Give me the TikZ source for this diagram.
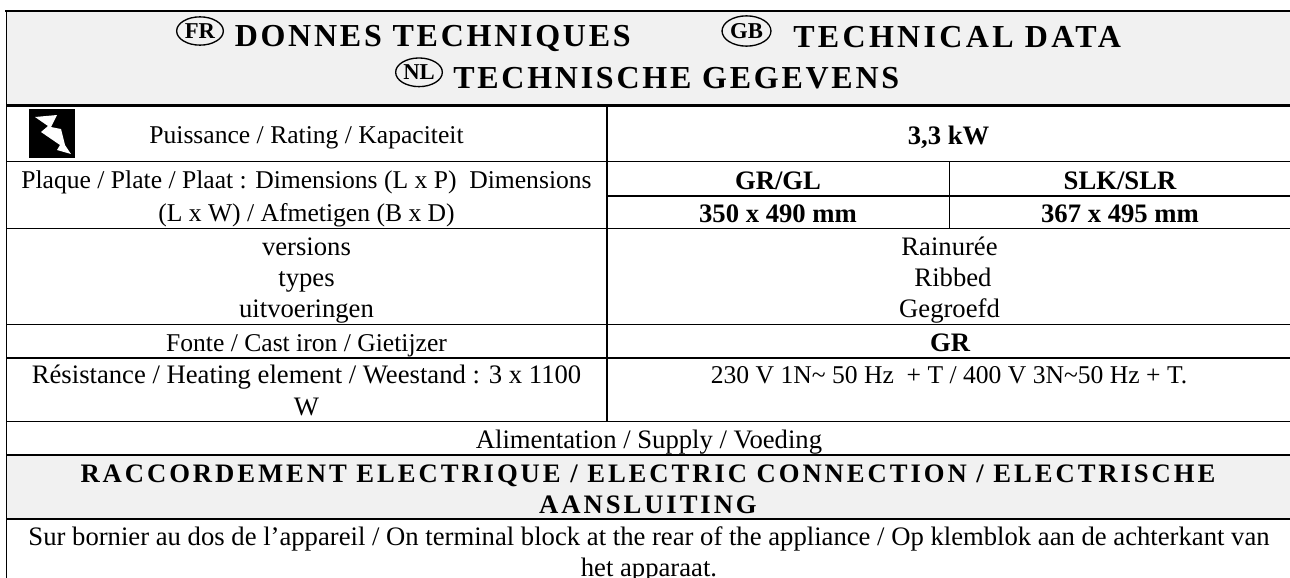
\documentclass[tikz,border=0pt]{standalone}
\usepackage{fontspec}
\setmainfont{Liberation Serif}
\newfontfamily\spaced[LetterSpace=8.6]{Liberation Serif}
\newfontfamily\spacedc[LetterSpace=10.4]{Liberation Serif}
\newfontfamily\spacedb[LetterSpace=11]{Liberation Serif}
\definecolor{band}{gray}{0.945}
\newcommand{\bodysize}{\fontsize{20pt}{24pt}\selectfont}
\newcommand{\tightsize}{\fontsize{19.2pt}{24pt}\selectfont}
\usetikzlibrary{shapes.geometric}
\tikzset{
  x=0.75pt,y=-0.75pt,
  rule/.style={line width=1.35pt,black},
  thickrule/.style={line width=1.8pt,black},
  cell/.style={inner sep=0pt,anchor=base,font=\bodysize},
  tcell/.style={inner sep=0pt,anchor=base,font=\tightsize},
  bcell/.style={cell,font=\bodysize\bfseries},
  titletext/.style={inner sep=0pt,anchor=base west,font=\fontsize{24pt}{24pt}\selectfont\bfseries\spaced},
  titletextc/.style={inner sep=0pt,anchor=base west,font=\fontsize{24pt}{24pt}\selectfont\bfseries\spacedc},
  headtext/.style={inner sep=0pt,anchor=base,font=\fontsize{20pt}{24pt}\selectfont\bfseries\spacedb},
  badge/.style={draw,ellipse,line width=1pt,inner sep=0pt,font=\fontsize{17pt}{17pt}\selectfont\bfseries}
}
\begin{document}
\begin{tikzpicture}
\useasboundingbox (0,0) rectangle (1290,578);
\fill[band] (6,11) rectangle (1290,105);
\fill[band] (6,455) rectangle (1290,519);
% horizontal rules
\draw[thickrule] (5,11) -- (1290,11);
\draw[thickrule] (6,105.5) -- (1290,105.5);
\draw[rule] (6,161.5) -- (1290,161.5);
\draw[rule] (607,196) -- (1290,196);
\draw[rule] (6,228.5) -- (1290,228.5);
\draw[rule] (6,324.5) -- (1290,324.5);
\draw[rule] (6,358) -- (1290,358);
\draw[rule] (6,421.5) -- (1290,421.5);
\draw[rule] (6,455) -- (1290,455);
\draw[rule] (6,519) -- (1290,519);
% vertical rules
\draw[rule] (6.5,10) -- (6.5,578);
\draw[rule] (607,104) -- (607,421.5);
\draw[rule] (949.5,161.5) -- (949.5,228.5);
% title
\node[badge,minimum width=35pt,minimum height=21.2pt] (fr) at (200,31) {FR};
\node[titletext] (t1) at (234.5,46.5) {DONNES TECHNIQUES};
\node[badge,minimum width=36.7pt,minimum height=22.7pt] (gb) at (746.5,31) {GB};
\node[titletextc] (t2) at (793,47) {TECHNICAL DATA};
\node[badge,minimum width=35pt,minimum height=21.5pt] (nl) at (419,72.3) {NL};
\node[titletext] (t3) at (453,88) {TECHNISCHE GEGEVENS};
% icon
\fill[black] (28.5,109) rectangle (75,158);
\fill[white] (35,117) -- (57,115) -- (51,127) -- (61,129) -- (65,145) -- (71,154) -- (57,150) -- (60,145) -- (41,132) -- (48,126) -- cycle;
% rows
\node[tcell] (a1) at (306.5,143) {Puissance / Rating / Kapaciteit};
\node[bcell] (a2) at (948.5,144) {3,3 kW};
\node[tcell] (b1) at (306.5,188) {Plaque / Plate / Plaat : Dimensions (L x P)\ \ Dimensions};
\node[tcell] (b2) at (306.5,221) {(L x W) / Afmetigen (B x D)};
\node[bcell] (b3) at (778,189) {GR/GL};
\node[bcell] (b4) at (1120,189) {SLK/SLR};
\node[bcell] (b5) at (778,222) {350 x 490 mm};
\node[bcell] (b6) at (1120,222) {367 x 495 mm};
\node[cell] (c1) at (306.5,255) {versions};
\node[cell] (c2) at (306.5,286) {types};
\node[cell] (c3) at (306.5,317) {uitvoeringen};
\node[cell] (c4) at (949.5,255) {Rainurée};
\node[cell] (c5) at (953,286) {Ribbed};
\node[cell] (c6) at (949.5,317) {Gegroefd};
\node[tcell] (d1) at (306.5,351) {Fonte / Cast iron / Gietijzer};
\node[bcell] (d2) at (950,351) {GR};
\node[cell] (e1) at (306.5,383) {Résistance / Heating element / Weestand : 3 x 1100};
\node[cell] (e2) at (306.5,415) {W};
\node[tcell] (e3) at (949,383) {230 V 1N\textasciitilde{} 50 Hz\ \ + T / 400 V 3N\textasciitilde{}50 Hz + T.};
\node[cell] (f1) at (649,448) {Alimentation / Supply / Voeding};
\node[headtext] (g1) at (648,482) {RACCORDEMENT ELECTRIQUE / ELECTRIC CONNECTION / ELECTRISCHE};
\node[headtext] (g2) at (648,513) {AANSLUITING};
\node[cell] (h1) at (649,545) {Sur bornier au dos de l’appareil / On terminal block at the rear of the appliance / Op klemblok aan de achterkant van};
\node[cell] (h2) at (649,576) {het apparaat.};
\end{tikzpicture}
\end{document}
